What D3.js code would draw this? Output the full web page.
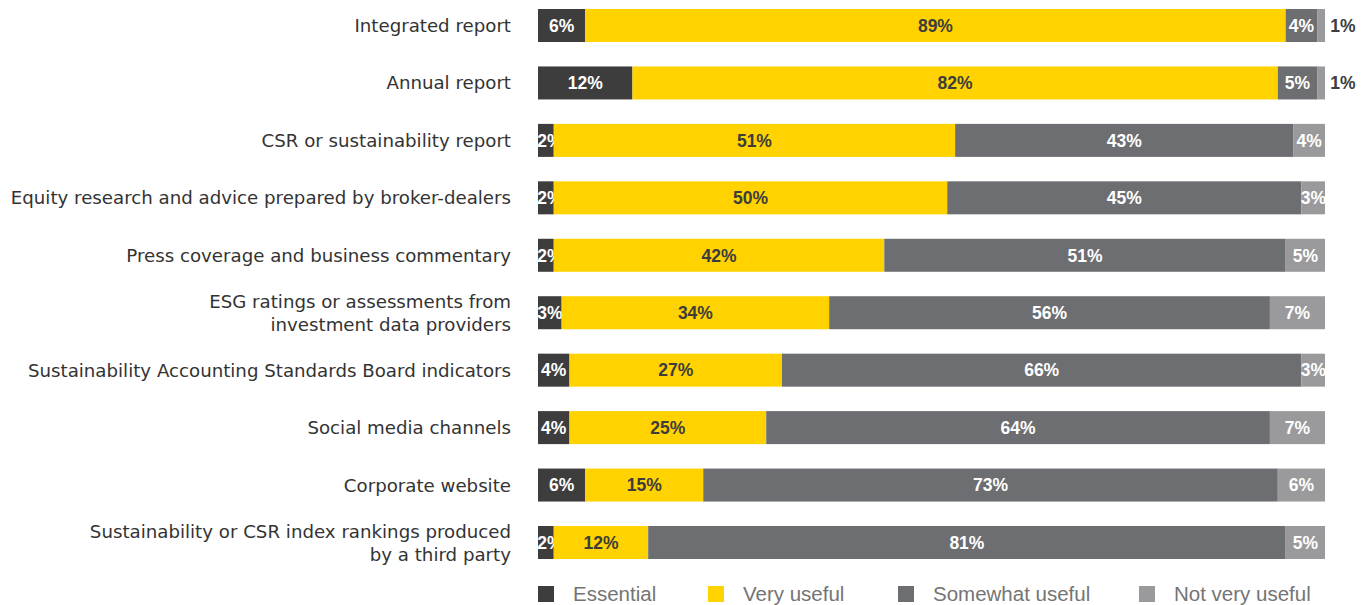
<!DOCTYPE html>
<html><head><meta charset="utf-8">
<script src="https://cdn.jsdelivr.net/npm/d3@7"></script>
<style>body{margin:0;background:#fff}svg{display:block}</style>
</head><body><svg id="c" width="1372" height="605"></svg>
<script>
const categories = [
  ["Integrated report"],
  ["Annual report"],
  ["CSR or sustainability report"],
  ["Equity research and advice prepared by broker-dealers"],
  ["Press coverage and business commentary"],
  ["ESG ratings or assessments from", "investment data providers"],
  ["Sustainability Accounting Standards Board indicators"],
  ["Social media channels"],
  ["Corporate website"],
  ["Sustainability or CSR index rankings produced", "by a third party"]
];
const seriesNames = ["Essential", "Very useful", "Somewhat useful", "Not very useful"];
const essential      = [6, 12, 2, 2, 2, 3, 4, 4, 6, 2];
const veryUseful     = [89, 82, 51, 50, 42, 34, 27, 25, 15, 12];
const somewhatUseful = [4, 5, 43, 45, 51, 56, 66, 64, 73, 81];
const notVeryUseful  = [1, 1, 4, 3, 5, 7, 3, 7, 6, 5];

const colors = ["#3d3d3e", "#ffd200", "#6d6e71", "#9a9a9c"];
const labelColors = ["#ffffff", "#3d3d3e", "#ffffff", "#ffffff"];
const font = "'Liberation Sans', Arial, sans-serif";
const labelFont = "'DejaVu Sans', sans-serif";

const svg = d3.select("#c");
const rows = categories.map((c, i) => ({
  i, lines: c,
  vals: [essential[i], veryUseful[i], somewhatUseful[i], notVeryUseful[i]]
}));

const x = d3.scaleLinear().domain([0, 100]).range([538, 1325]);
const y = d3.scaleBand().domain(d3.range(categories.length)).range([9, 559]).paddingInner(0.4255).paddingOuter(0);

const stack = d3.stack().keys([0,1,2,3]).value((d, k) => d.vals[k]);
const layers = stack(rows);

layers.forEach((layer, k) => {
  const g = svg.append("g");
  g.selectAll("rect").data(layer).enter().append("rect")
    .attr("x", d => x(d[0]))
    .attr("width", d => x(d[1]) - x(d[0]))
    .attr("y", d => y(d.data.i))
    .attr("height", y.bandwidth())
    .attr("fill", colors[k]);
  g.selectAll("text").data(layer).enter().append("text")
    .attr("x", d => {
      const v = d[1] - d[0];
      if (k === 3 && v <= 1) return x(100) + 18;
      const cx = (x(d[0]) + x(d[1])) / 2;
      return Math.max(cx, x(d[0]) + 12);
    })
    .attr("y", d => y(d.data.i) + y.bandwidth() / 2)
    .attr("dy", "0.36em")
    .attr("text-anchor", "middle")
    .attr("font-family", font)
    .attr("font-weight", "bold")
    .attr("font-size", 17.5)
    .attr("fill", d => (k === 3 && d[1] - d[0] <= 1) ? "#3d3d3e" : labelColors[k])
    .text(d => (d[1] - d[0]) + "%");
});

// category labels
const lab = svg.append("g");
rows.forEach(r => {
  const cy = y(r.i) + y.bandwidth() / 2;
  const n = r.lines.length;
  const t = lab.append("text")
    .attr("x", 511)
    .attr("text-anchor", "end")
    .attr("font-family", labelFont)
    .attr("font-size", 18.2)
    .attr("fill", "#333333");
  r.lines.forEach((ln, j) => {
    t.append("tspan").attr("x", 511)
      .attr("y", cy + (j - (n - 1) / 2) * 23)
      .attr("dy", "0.36em")
      .text(ln);
  });
});

// legend
const legendX = [538, 708, 898, 1139];
const lg = svg.append("g");
seriesNames.forEach((s, k) => {
  lg.append("rect").attr("x", legendX[k]).attr("y", 586).attr("width", 16).attr("height", 16).attr("fill", colors[k]);
  lg.append("text").attr("x", legendX[k] + 35).attr("y", 601)
    .attr("font-family", font).attr("font-size", 20.5).attr("fill", "#747474").text(s);
});
</script></body></html>
